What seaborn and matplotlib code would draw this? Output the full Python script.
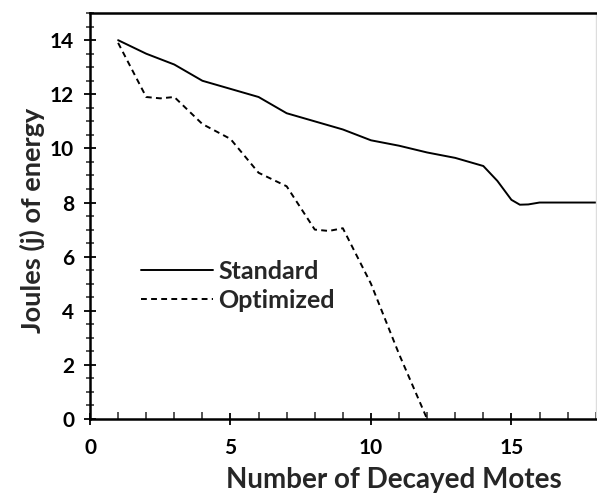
import matplotlib
matplotlib.use("Agg")
import matplotlib.pyplot as plt
import seaborn as sns
import pandas as pd
from matplotlib.ticker import MultipleLocator

# Energy remaining versus number of decayed motes
std_x = [1, 2, 3, 4, 5, 6, 7, 8, 9, 10, 11, 12, 13, 14, 14.5, 15, 15.3, 15.6, 16, 17, 18]
std_y = [14.0, 13.5, 13.1, 12.5, 12.2, 11.9, 11.3, 11.0, 10.7, 10.3, 10.1, 9.85, 9.65, 9.35, 8.8, 8.1, 7.92, 7.93, 8.0, 8.0, 8.0]

opt_x = [1, 2, 2.5, 3, 4, 5, 6, 7, 8, 8.5, 9, 10, 11, 12]
opt_y = [13.9, 11.9, 11.85, 11.9, 10.9, 10.35, 9.1, 8.6, 7.0, 6.95, 7.05, 5.0, 2.4, 0.0]

series_names = ["Standard", "Optimized"]

df = pd.concat([
    pd.DataFrame({"motes": std_x, "joules": std_y, "series": series_names[0]}),
    pd.DataFrame({"motes": opt_x, "joules": opt_y, "series": series_names[1]}),
])

sns.set_style("white")
plt.rcParams["font.family"] = ["Lato", "DejaVu Sans"]

fig = plt.figure(figsize=(5.97, 4.95), dpi=100)
ax = fig.add_axes([0.1508, 0.1535, 0.847, 0.82])

sns.lineplot(data=df, x="motes", y="joules", hue="series", style="series",
             palette={"Standard": "black", "Optimized": "black"},
             dashes={"Standard": "", "Optimized": (3, 2.2)},
             linewidth=1.4, ax=ax, sort=False, estimator=None)

ax.set_xlim(0, 18)
ax.set_ylim(0, 15)
ax.set_xticks([0, 5, 10, 15])
ax.set_yticks([0, 2, 4, 6, 8, 10, 12, 14])
ax.xaxis.set_minor_locator(MultipleLocator(1))
ax.yaxis.set_minor_locator(MultipleLocator(0.5))

ax.tick_params(axis="both", which="major", direction="inout", length=9, width=1.3,
               labelsize=15, colors="black", bottom=True, left=True)
ax.tick_params(axis="y", which="major", pad=7)
ax.tick_params(axis="x", which="major", pad=9)
ax.tick_params(axis="y", which="minor", direction="inout", length=6, width=1.1, left=True)
ax.tick_params(axis="x", which="minor", direction="in", length=5, width=1.1, bottom=True)
for lab in ax.get_xticklabels() + ax.get_yticklabels():
    lab.set_fontweight("bold")

for side in ["left", "bottom", "top"]:
    ax.spines[side].set_visible(True)
    ax.spines[side].set_color("black")
    ax.spines[side].set_linewidth(1.8)
ax.spines["right"].set_color("#dddddd")
ax.spines["right"].set_linewidth(1.0)

ax.set_xlabel("Number of Decayed Motes", fontsize=20, fontweight="bold")
ax.xaxis.set_label_coords(0.6, -0.118)
ax.set_ylabel("Joules (j) of energy", fontsize=19.5, fontweight="bold")
ax.yaxis.set_label_coords(-0.09, 0.49)

leg = ax.legend(loc="upper left", bbox_to_anchor=(0.056, 0.447), frameon=False,
                prop={"size": 18, "weight": "bold"}, handlelength=2.9,
                handletextpad=0.2, labelspacing=0.22)
for h in leg.get_lines():
    h.set_linewidth(1.4)

fig.savefig("out.png", dpi=100)
